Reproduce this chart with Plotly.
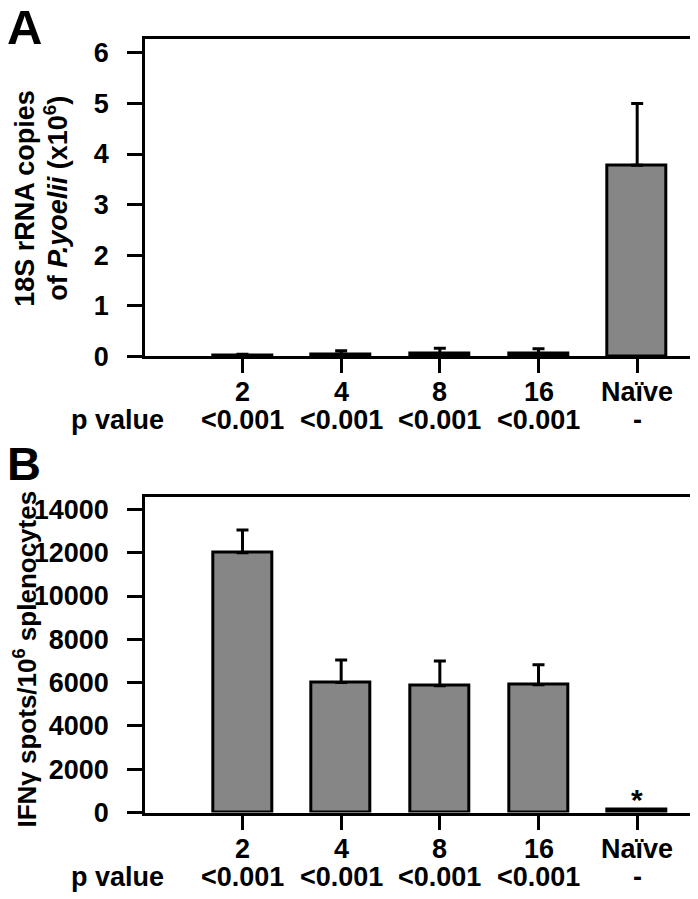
import plotly.graph_objects as go

# ---- data ----
groups = ["2", "4", "8", "16", "Naïve"]
p_values = ["<0.001", "<0.001", "<0.001", "<0.001", "-"]

rrna_copies = [0.02, 0.04, 0.05, 0.05, 3.78]      # x10^6
rrna_err = [0.02, 0.07, 0.11, 0.10, 1.22]

ifng_spots = [12000, 6000, 5850, 5900, 130]
ifng_err = [1050, 1040, 1150, 930, 0]

A_ticks = [0, 1, 2, 3, 4, 5, 6]
B_ticks = [0, 2000, 4000, 6000, 8000, 10000, 12000, 14000]

W, H = 698, 899
FONT = "Arial, Liberation Sans, sans-serif"
FS = 27
BAR_FILL = "#868686"
xpos = list(range(len(groups)))

fig = go.Figure()

def add_bars(vals, errs, xa, ya):
    fig.add_trace(go.Bar(
        x=xpos, y=vals, width=0.6,
        marker=dict(color=BAR_FILL, line=dict(color="black", width=3)),
        error_y=dict(type="data", array=errs, arrayminus=[0] * len(errs),
                     symmetric=False, color="black", thickness=3, width=6),
        xaxis=xa, yaxis=ya, showlegend=False, hoverinfo="skip",
    ))

add_bars(rrna_copies, rrna_err, "x", "y")
add_bars(ifng_spots, ifng_err, "x2", "y2")

def px_y(p):
    return 1 - p / H

xdom = [137.5 / W, 696 / W]
xrange_ = [-0.985, 4.667]

axis_common = dict(showline=True, mirror=True, linecolor="black", linewidth=3,
                   showgrid=False, zeroline=False, ticks="outside",
                   tickcolor="black", tickwidth=3)
tickfont = dict(size=FS, family=FONT, weight="bold", color="black")

fig.update_layout(
    width=W, height=H,
    margin=dict(l=0, r=0, t=0, b=0),
    paper_bgcolor="white", plot_bgcolor="white",
    font=dict(family=FONT, color="black"),
    bargap=0,
    xaxis=dict(domain=xdom, range=xrange_, tickvals=xpos, showticklabels=False,
               ticklen=14, anchor="y", **axis_common),
    yaxis=dict(domain=[px_y(353), px_y(30)], range=[0, 6.266], tickvals=A_ticks,
               ticklen=15, ticklabelstandoff=13, tickfont=tickfont,
               anchor="x", **axis_common),
    xaxis2=dict(domain=xdom, range=xrange_, tickvals=xpos, showticklabels=False,
                ticklen=14, anchor="y2", **axis_common),
    yaxis2=dict(domain=[px_y(818), px_y(496)], range=[0, 14590], tickvals=B_ticks,
                tickformat="d", ticklen=15, ticklabelstandoff=13, tickfont=tickfont,
                anchor="x2", **axis_common),
)

ann = []
for xa, ya in (("x", "y"), ("x2", "y2")):
    for i, (g, p) in enumerate(zip(groups, p_values)):
        ann.append(dict(x=i, y=0, xref=xa, yref=f"{ya} domain", text=f"<b>{g}</b>",
                        showarrow=False, yanchor="middle", yshift=-36,
                        font=dict(size=FS, family=FONT)))
        ann.append(dict(x=i, y=0, xref=xa, yref=f"{ya} domain", text=f"<b>{p}</b>",
                        showarrow=False, yanchor="middle", yshift=-64,
                        font=dict(size=FS, family=FONT)))
    ann.append(dict(x=158 / W, y=0, xref="paper", yref=f"{ya} domain",
                    text="<b>p value</b>", showarrow=False, xanchor="right",
                    yanchor="middle", yshift=-64, font=dict(size=FS, family=FONT)))

# asterisk over Naive in B
ann.append(dict(x=4, y=ifng_spots[4], xref="x2", yref="y2", text="<b>*</b>",
                showarrow=False, yanchor="middle", yshift=10,
                font=dict(size=30, family=FONT)))

# panel letters
ann.append(dict(x=0, y=1, xref="paper", yref="paper", text="<b>A</b>", showarrow=False,
                xanchor="left", yanchor="top", xshift=-3, yshift=12,
                font=dict(size=49, family=FONT)))
ann.append(dict(x=0, y=px_y(462), xref="paper", yref="paper", text="<b>B</b>",
                showarrow=False, xanchor="left", yanchor="middle", xshift=-3,
                font=dict(size=47, family=FONT)))

# y-axis titles
ann.append(dict(x=17 / W, y=0.5, xref="paper", yref="y domain",
                text="<b>18S rRNA copies</b>", textangle=-90, showarrow=False,
                xanchor="center", yanchor="middle", font=dict(size=FS, family=FONT)))
ann.append(dict(x=48 / W, y=0.5, xref="paper", yref="y domain",
                text="<b>of <i>P.yoelii</i> (x10<sup>6</sup>)</b>", textangle=-90,
                showarrow=False, xanchor="center", yanchor="middle",
                font=dict(size=FS, family=FONT)))
ann.append(dict(x=18 / W, y=0.5, xref="paper", yref="y2 domain",
                text="<b>IFNγ spots/10<sup>6</sup> splenocytes</b>", textangle=-90,
                showarrow=False, xanchor="center", yanchor="middle", yshift=-4,
                font=dict(size=26, family=FONT)))

fig.update_layout(annotations=ann)
fig.write_html("out.html")
